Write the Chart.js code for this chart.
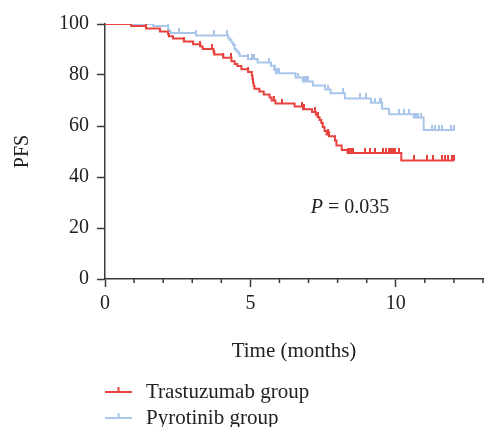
<!DOCTYPE html>
<html>
<head>
<meta charset="utf-8">
<script src="https://cdn.jsdelivr.net/npm/chart.js@4.4.1/dist/chart.umd.min.js"></script>
<style>
html, body { margin: 0; padding: 0; background: #fff; }
</style>
</head>
<body>
<canvas id="pfsChart" width="489" height="427"></canvas>
<script>
// Kaplan-Meier steps (months, PFS %)
let trastTime = [0, 0.90, 1.41, 1.89, 2.17, 2.20, 2.34, 2.71, 3.03, 3.28, 3.36, 3.73, 3.76, 4.07, 4.35, 4.46, 4.55, 4.69, 4.92, 5.05, 5.07, 5.09, 5.11, 5.14, 5.31, 5.46, 5.66, 5.73, 5.86, 6.52, 6.81, 7.12, 7.25, 7.31, 7.38, 7.44, 7.49, 7.55, 7.62, 7.70, 7.91, 7.96, 8.14, 8.34, 10.19, 12.01];
let trastSurv = [100, 99.2, 98.2, 97.1, 96.0, 95.2, 94.3, 93.1, 92.1, 91.2, 90.2, 89.1, 88.0, 86.8, 85.4, 84.3, 83.5, 82.3, 81.2, 79.8, 78.5, 77.0, 75.8, 74.6, 73.5, 72.4, 71.2, 70.0, 68.8, 67.6, 66.6, 65.5, 64.4, 63.4, 62.4, 61.2, 59.6, 58.0, 56.7, 56.0, 54.3, 52.4, 50.6, 49.4, 46.5, 46.5];
let trastCensor = [0.43, 1.41, 2.71, 3.28, 3.67, 3.76, 4.07, 4.33, 4.92, 5.82, 6.1, 6.78, 6.82, 6.86, 7.23, 7.33, 7.66, 7.72, 7.91, 8.36, 8.42, 8.48, 8.53, 8.93, 9.1, 9.3, 9.55, 9.66, 9.75, 9.8, 9.85, 9.9, 9.99, 10.12, 10.62, 11.07, 11.28, 11.58, 11.69, 11.8, 11.94, 12.01];

let pyroTime = [0, 1.66, 2.17, 2.20, 2.26, 3.13, 4.24, 4.29, 4.35, 4.41, 4.46, 4.52, 4.60, 4.63, 4.92, 5.25, 5.71, 5.82, 5.88, 6.55, 6.80, 7.15, 7.57, 7.76, 8.25, 9.15, 9.53, 9.77, 10.62, 10.96, 12.01];
let pyroSurv = [100, 99.2, 98.0, 97.3, 96.5, 95.5, 94.4, 93.7, 92.7, 91.8, 90.1, 89.2, 88.3, 87.5, 86.3, 84.9, 83.6, 82.0, 80.7, 79.0, 77.5, 75.9, 74.3, 72.8, 70.8, 69.1, 66.8, 64.6, 63.3, 58.4, 58.4];
let pyroCensor = [1.64, 2.15, 2.54, 3.13, 3.75, 4.21, 4.92, 5.05, 5.14, 5.65, 5.84, 5.89, 5.94, 5.99, 6.63, 6.86, 6.91, 6.97, 7.68, 8.17, 8.76, 8.96, 9.15, 9.3, 9.45, 9.5, 10.11, 10.28, 10.45, 10.62, 10.7, 10.78, 10.86, 11.24, 11.36, 11.47, 11.58, 11.9, 12.01];

let groupNames = ['Trastuzumab group', 'Pyrotinib group'];
let groupColors = ['#e8423f', '#a9c6ea'];
let yTicks = [0, 20, 40, 60, 80, 100];
let xLabels = [0, 5, 10];
let pText = '0.035';

let axisColor = '#3a3a3a';
let serif = '"Liberation Serif", "DejaVu Serif", serif';

Chart.defaults.font.family = serif;
Chart.defaults.font.size = 20;
Chart.defaults.color = '#222';

function steps(times, surv) {
  return times.map(function(t, i) { return {x: t, y: surv[i]}; });
}

// censored patients sit on the curve at their time
function censorPoints(cens, times, surv) {
  return cens.map(function(t) {
    let k = 0;
    for (let i = 0; i < times.length; i++) {
      if (times[i] <= t) k = i;
    }
    return {x: t, y: surv[k]};
  });
}

// small upward tick used as censor mark
function tickMark(color) {
  let c = document.createElement('canvas');
  c.width = 2;
  c.height = 10;
  let g = c.getContext('2d');
  g.fillStyle = color;
  g.fillRect(0, 0, 2, 5);
  return c;
}

let extras = {
  id: 'extras',
  afterDraw: function(chart) {
    let ctx = chart.ctx;
    let xs = chart.scales.x;
    let ys = chart.scales.y;
    let area = chart.chartArea;
    ctx.save();

    // minor ticks on x
    ctx.strokeStyle = axisColor;
    ctx.lineWidth = 1.5;
    for (let v = 1; v <= 13; v++) {
      if (v % 5 === 0) continue;
      let px = xs.getPixelForValue(v);
      ctx.beginPath();
      ctx.moveTo(px, area.bottom);
      ctx.lineTo(px, area.bottom + 4);
      ctx.stroke();
    }

    // p value
    let px = xs.getPixelForValue(7.08);
    let py = ys.getPixelForValue(28);
    ctx.fillStyle = '#222';
    ctx.textBaseline = 'middle';
    ctx.textAlign = 'left';
    ctx.font = 'italic 20px ' + serif;
    ctx.fillText('P', px, py);
    let w = ctx.measureText('P').width;
    ctx.font = '20px ' + serif;
    ctx.fillText(' = ' + pText, px + w, py);

    // legend
    let lx = area.left;
    ctx.font = '21px ' + serif;
    for (let i = 0; i < groupNames.length; i++) {
      let ly = 392 + i * 26;
      ctx.strokeStyle = groupColors[i];
      ctx.lineWidth = 2;
      ctx.beginPath();
      ctx.moveTo(lx, ly);
      ctx.lineTo(lx + 27, ly);
      ctx.stroke();
      ctx.fillStyle = groupColors[i];
      ctx.fillRect(lx + 12.5, ly - 5, 2, 5);
      ctx.fillStyle = '#222';
      ctx.fillText(groupNames[i], lx + 41, ly);
    }
    ctx.restore();
  }
};

let ctx = document.getElementById('pfsChart').getContext('2d');

let pfsChart = new Chart(ctx, {
  type: 'line',
  data: {
    datasets: [{
      label: groupNames[0],
      data: steps(trastTime, trastSurv),
      borderColor: groupColors[0],
      borderWidth: 2,
      stepped: 'before',
      pointRadius: 0,
      fill: false
    }, {
      label: groupNames[0] + ' censored',
      data: censorPoints(trastCensor, trastTime, trastSurv),
      showLine: false,
      pointStyle: tickMark(groupColors[0]),
      pointRadius: 5
    }, {
      label: groupNames[1],
      data: steps(pyroTime, pyroSurv),
      borderColor: groupColors[1],
      borderWidth: 2,
      stepped: 'before',
      pointRadius: 0,
      fill: false
    }, {
      label: groupNames[1] + ' censored',
      data: censorPoints(pyroCensor, pyroTime, pyroSurv),
      showLine: false,
      pointStyle: tickMark(groupColors[1]),
      pointRadius: 5
    }]
  },
  options: {
    responsive: false,
    animation: false,
    layout: {
      padding: {left: 0, top: 24, right: 1, bottom: 60}
    },
    plugins: {
      legend: {display: false},
      tooltip: {enabled: false}
    },
    scales: {
      x: {
        type: 'linear',
        min: 0,
        max: 13,
        afterFit: function(scale) { scale.height = 88; },
        ticks: {
          stepSize: 1,
          autoSkip: false,
          maxRotation: 0,
          padding: 5,
          callback: function(v) { return xLabels.indexOf(v) >= 0 ? v : ''; }
        },
        grid: {
          drawOnChartArea: false,
          tickLength: 8,
          tickWidth: 1.5,
          tickColor: function(c) { return c.tick && c.tick.value % 5 === 0 ? axisColor : 'rgba(0,0,0,0)'; }
        },
        border: {color: axisColor, width: 1.5},
        title: {
          display: true,
          text: 'Time (months)',
          font: {size: 21},
          padding: {top: 0, bottom: 3}
        }
      },
      y: {
        min: 0,
        max: 100,
        afterFit: function(scale) { scale.width = 105; },
        afterBuildTicks: function(scale) {
          scale.ticks = yTicks.map(function(v) { return {value: v}; });
        },
        ticks: {padding: 8},
        grid: {
          drawOnChartArea: false,
          tickLength: 8,
          tickWidth: 1.5,
          tickColor: axisColor
        },
        border: {color: axisColor, width: 1.5},
        title: {
          display: true,
          text: 'PFS',
          padding: {top: 11, bottom: 0}
        }
      }
    }
  },
  plugins: [extras]
});
</script>
</body>
</html>
